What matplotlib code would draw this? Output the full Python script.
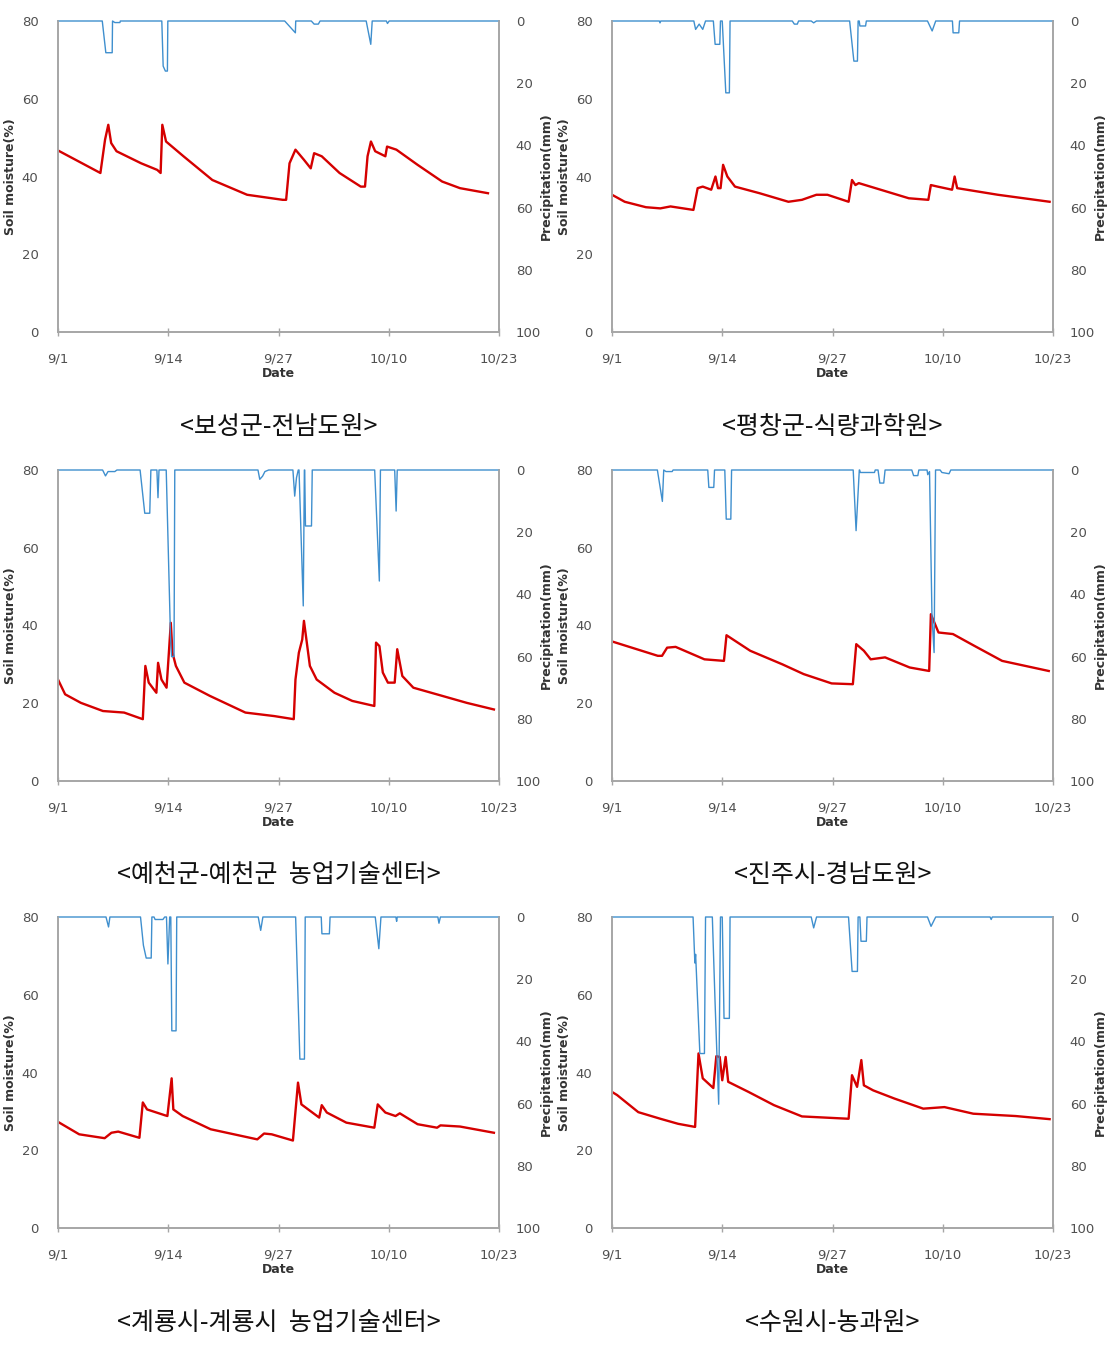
import matplotlib
matplotlib.use('Agg')
import matplotlib.pyplot as plt

plt.rcParams['font.family'] = ['DejaVu Sans']

# x axis: days after 9/1
tick_days = [0, 13, 26, 39, 52]
tick_labels = ['9/1', '9/14', '9/27', '10/10', '10/23']

captions = ['<보성군-전남도원>', '<평창군-식량과학원>',
            '<예천군-예천군  농업기술센터>', '<진주시-경남도원>',
            '<계룡시-계룡시  농업기술센터>', '<수원시-농과원>']

#%% soil moisture (%)
sm_days_1 = [0, 5.0, 5.55, 5.93, 6.27, 6.9, 9.8, 11.7, 12.1, 12.3, 12.74, 14.8, 18.2, 22.3, 26.5,
             26.9, 27.3, 28.0, 29.0, 29.8, 30.2, 31.1, 33.2, 35.7, 36.2, 36.5, 36.9, 37.4, 38.6,
             38.8, 39.9, 42.4, 45.3, 47.4, 50.7]
sm_vals_1 = [46.7, 40.9, 49.5, 53.3, 48.6, 46.5, 43.4, 41.7, 40.9, 53.3, 49.0, 45.2, 39.1, 35.3, 34.0,
             34.0, 43.4, 46.9, 44.3, 42.1, 46.0, 45.2, 40.9, 37.4, 37.4, 45.2, 49.0, 46.5, 45.2,
             47.7, 46.9, 43.0, 38.7, 37.0, 35.7]

sm_days_2 = [0, 1.5, 4.0, 5.7, 6.9, 9.6, 10.1, 10.7, 11.7, 12.2, 12.5, 12.8, 13.1, 13.6, 14.5, 17.4,
             20.8, 22.4, 24.1, 25.4, 27.9, 28.3, 28.7, 29.1, 35.0, 37.3, 37.6, 38.4, 40.1, 40.4,
             40.7, 45.5, 51.6]
sm_vals_2 = [35.3, 33.5, 32.1, 31.8, 32.3, 31.4, 37.0, 37.4, 36.6, 40.0, 37.0, 37.0, 43.0, 40.0, 37.4,
             35.7, 33.5, 34.0, 35.3, 35.3, 33.5, 39.1, 37.8, 38.3, 34.4, 34.0, 37.8, 37.4, 36.6,
             40.0, 37.0, 35.3, 33.5]

sm_days_3 = [0, 0.84, 2.7, 5.3, 7.8, 10.0, 10.3, 10.7, 11.6, 11.8, 12.2, 12.8, 13.1, 13.3, 13.5,
             13.9, 14.9, 17.9, 22.1, 25.5, 27.8, 28.0, 28.4, 28.8, 29.0, 29.7, 30.5, 32.6, 34.7,
             37.3, 37.5, 37.9, 38.3, 38.9, 39.7, 40.0, 40.6, 41.9, 45.3, 48.2, 51.4]
sm_vals_3 = [26.1, 22.3, 20.1, 18.0, 17.6, 15.9, 29.6, 25.3, 22.7, 30.4, 26.1, 24.0, 33.9, 40.7, 33.0,
             29.6, 25.3, 21.9, 17.6, 16.7, 15.9, 26.1, 33.0, 36.4, 41.2, 29.6, 26.1, 22.7, 20.6,
             19.3, 35.6, 34.7, 27.9, 25.3, 25.3, 33.9, 27.0, 24.0, 21.9, 20.1, 18.4]

sm_days_4 = [0, 5.4, 5.9, 6.5, 7.5, 10.9, 13.2, 13.5, 14.2, 16.3, 20.1, 22.6, 25.9, 28.4, 28.8,
             29.7, 30.5, 32.2, 35.1, 37.4, 37.6, 38.1, 38.5, 40.2, 42.7, 46.0, 51.5]
sm_vals_4 = [35.9, 32.2, 32.2, 34.3, 34.5, 31.3, 30.9, 37.5, 36.5, 33.5, 30.0, 27.5, 25.1, 24.9, 35.2,
             33.5, 31.3, 31.8, 29.2, 28.3, 42.9, 40.3, 38.2, 37.8, 34.8, 30.9, 28.3]

sm_days_5 = [0, 2.5, 5.5, 6.3, 7.1, 9.6, 10.0, 10.5, 12.6, 12.9, 13.1, 13.4, 13.6, 14.7, 18.0, 23.5,
             24.3, 25.2, 27.7, 28.3, 28.7, 30.8, 31.1, 31.7, 34.0, 37.3, 37.7, 38.6, 39.8, 40.3,
             42.4, 44.7, 45.1, 47.4, 51.4]
sm_vals_5 = [27.3, 24.1, 23.1, 24.5, 24.8, 23.2, 32.3, 30.5, 29.0, 28.8, 32.7, 38.5, 30.5, 28.8, 25.4,
             22.8, 24.3, 24.1, 22.5, 37.4, 31.8, 28.4, 31.6, 29.7, 27.1, 25.8, 31.8, 29.7, 28.8,
             29.5, 26.7, 25.8, 26.4, 26.1, 24.5]

sm_days_6 = [0, 0.6, 3.1, 5.7, 7.8, 9.8, 10.2, 10.7, 11.95, 12.3, 12.7, 13.0, 13.4, 13.7, 16.1, 19.1,
             22.4, 27.9, 28.3, 28.9, 29.4, 29.7, 30.8, 33.3, 36.7, 39.2, 42.6, 47.6, 51.6]
sm_vals_6 = [35.0, 34.2, 29.8, 28.1, 26.8, 26.0, 44.9, 38.5, 36.0, 44.2, 44.0, 38.0, 44.0, 37.6, 35.0,
             31.6, 28.7, 28.1, 39.3, 36.3, 43.2, 36.7, 35.4, 33.3, 30.7, 31.1, 29.4, 28.8, 28.0]

#%% precipitation (mm)
pr_days_1 = [0, 5.22, 5.64, 6.39, 6.43, 6.7, 7.3, 7.35, 12.24, 12.4, 12.66, 12.9, 12.95, 26.73, 27.99,
             28.03, 29.87, 30.2, 30.7, 30.9, 36.34, 36.88, 37.05, 38.72, 38.85, 39.05, 52]
pr_vals_1 = [0, 0, 10.2, 10.2, 0, 0.5, 0.5, 0, 0, 14.5, 16.1, 16.1, 0, 0, 3.8,
             0, 0, 1.0, 1.0, 0, 0, 7.5, 0, 0, 0.8, 0, 0]

pr_days_2 = [0, 5.58, 5.66, 5.75, 9.65, 9.86, 10.28, 10.7, 11.03, 11.95, 12.16, 12.71, 12.79, 13.0,
             13.42, 13.84, 13.92, 21.26, 21.5, 21.85, 22.0, 23.49, 23.78, 24.1, 28.02, 28.52, 28.94,
             29.02, 29.15, 29.23, 29.9, 29.99, 37.2, 37.75, 38.17, 40.14, 40.22, 40.89, 40.98, 52]
pr_vals_2 = [0, 0, 0.6, 0, 0, 2.7, 1.0, 2.7, 0, 0, 7.5, 7.5, 0, 0,
             23.1, 23.1, 0, 0, 1.0, 1.0, 0, 0, 0.6, 0, 0, 12.9, 12.9,
             0, 0, 1.6, 1.6, 0, 0, 3.2, 0, 0, 3.8, 3.8, 0, 0]

pr_days_3 = [0, 5.26, 5.6, 5.9, 6.7, 6.95, 9.68, 10.23, 10.82, 10.95, 11.66, 11.79, 11.91, 12.76,
             13.26, 13.39, 13.68, 13.77, 23.58, 23.79, 24.12, 24.4, 24.84, 27.7, 27.91, 28.12, 28.33,
             28.42, 28.92, 29.05, 29.09, 29.18, 29.89, 29.98, 37.34, 37.89, 38.02, 39.7, 39.87, 40.0, 52]
pr_vals_3 = [0, 0, 1.9, 0.5, 0.5, 0, 0, 13.9, 13.9, 0, 0, 8.9, 0, 0,
             53, 60, 60, 0, 0, 3.0, 2.0, 0.5, 0, 0, 8.4, 2.5, 0,
             0, 43.7, 0, 0, 18, 18, 0, 0, 35.7, 0, 0, 13.2, 0, 0]

pr_days_4 = [0, 5.35, 5.94, 6.1, 6.36, 7.1, 7.2, 11.29, 11.42, 12.0, 12.09, 13.3, 13.47, 14.01, 14.1,
             28.44, 28.78, 29.16, 29.2, 29.28, 30.95, 31.04, 31.37, 31.58, 32.04, 32.2, 35.35, 35.56,
             36.06, 36.18, 37.15, 37.23, 37.44, 37.73, 37.98, 38.15, 38.69, 38.9, 39.74, 39.95, 52]
pr_vals_4 = [0, 0, 10.1, 0, 0.5, 0.5, 0, 0, 5.6, 5.6, 0, 0, 15.8, 15.8, 0,
             0, 19.5, 0, 0, 0.8, 0.8, 0, 0, 4.2, 4.2, 0, 0, 1.8,
             1.8, 0, 0, 1.5, 0.5, 47, 58.7, 0, 0, 0.8, 1.2, 0, 0]

pr_days_5 = [0, 5.66, 5.96, 6.12, 9.73, 10.07, 10.4, 10.99, 11.07, 11.32, 11.45, 12.37, 12.58, 12.79,
             12.96, 13.17, 13.3, 13.42, 13.92, 14.0, 23.61, 23.9, 24.16, 28.02, 28.52, 29.06, 29.15,
             31.04, 31.12, 32.0, 32.08, 37.41, 37.83, 38.08, 39.84, 39.93, 40.0, 44.79, 44.92, 45.09, 52]
pr_vals_5 = [0, 0, 3.2, 0, 0, 9.1, 13.2, 13.2, 0, 0, 0.8, 0.8, 0, 0,
             15.1, 0, 0, 36.6, 36.6, 0, 0, 4.3, 0, 0, 45.7, 45.7, 0,
             0, 5.4, 5.4, 0, 0, 10.2, 0, 0, 1.4, 0, 0, 2.0, 0, 0]

pr_days_6 = [0, 9.56, 9.77, 9.86, 10.36, 10.9, 11.03, 11.83, 12.16, 12.58, 12.79, 13.0, 13.21, 13.84,
             13.92, 23.49, 23.78, 24.12, 27.89, 28.31, 28.94, 29.02, 29.23, 29.36, 29.99, 30.07, 37.2,
             37.62, 38.17, 44.58, 44.71, 44.84, 52]
pr_vals_6 = [0, 0, 14.8, 12, 43.9, 43.9, 0, 0, 28, 60.2, 0, 0, 32.6, 32.6,
             0, 0, 3.5, 0, 0, 17.5, 17.5, 0, 0, 7.8, 7.8, 0, 0,
             3.0, 0, 0, 0.8, 0, 0]

panels = [(sm_days_1, sm_vals_1, pr_days_1, pr_vals_1),
          (sm_days_2, sm_vals_2, pr_days_2, pr_vals_2),
          (sm_days_3, sm_vals_3, pr_days_3, pr_vals_3),
          (sm_days_4, sm_vals_4, pr_days_4, pr_vals_4),
          (sm_days_5, sm_vals_5, pr_days_5, pr_vals_5),
          (sm_days_6, sm_vals_6, pr_days_6, pr_vals_6)]

#%% layout (figure fractions)
W, H = 1109, 1348
lefts = [58 / W, 612 / W]
width = 441 / W
bottoms = [1 - 332 / H, 1 - 781 / H, 1 - 1228 / H]
height = 311 / H
caption_y = [1 - 427 / H, 1 - 875 / H, 1 - 1323 / H]

fig = plt.figure(figsize=(W / 100, H / 100), dpi=100)
grey = '#a6a6a6'
tick_col = '#505050'

for i, (sd, sv, pd_, pv) in enumerate(panels):
    row, col = divmod(i, 2)
    ax = fig.add_axes([lefts[col], bottoms[row], width, height])
    ax2 = ax.twinx()

    ax.plot(sd, sv, color='#d50000', lw=1.7, solid_joinstyle='round')
    ax2.plot(pd_, pv, color='#3f8fce', lw=1.0, clip_on=False)

    ax.set_xlim(0, 52)
    ax.set_ylim(0, 80)
    ax2.set_ylim(100, 0)
    ax.set_xticks(tick_days)
    ax.set_xticklabels(tick_labels)
    ax.set_yticks([0, 20, 40, 60, 80])
    ax2.set_yticks([0, 20, 40, 60, 80, 100])

    for a in (ax, ax2):
        for side in ['left', 'right', 'bottom']:
            a.spines[side].set_color(grey)
            a.spines[side].set_linewidth(1.2)
        a.spines['top'].set_visible(False)
    ax.tick_params(axis='x', direction='inout', length=6, width=1, color=grey,
                   pad=12, labelsize=9.5, labelcolor=tick_col)
    ax.tick_params(axis='y', length=0, pad=14, labelsize=9.5, labelcolor=tick_col)
    ax2.tick_params(axis='y', length=0, pad=12, labelsize=9.5, labelcolor=tick_col)

    ax.set_xlabel('Date', fontsize=9, fontweight='bold', color='#333333', labelpad=1)
    ax.set_ylabel('Soil moisture(%)', fontsize=9, fontweight='bold', color='#333333')
    ax2.set_ylabel('Precipitation(mm)', fontsize=9, fontweight='bold', color='#333333')
    ax.yaxis.set_label_coords(-0.093, 0.5)
    ax2.yaxis.set_label_coords(1.092, 0.5)

    fig.text(lefts[col] + width / 2, caption_y[row], captions[i], ha='center', va='center',
             fontsize=18, family=['Noto Sans CJK KR', 'DejaVu Sans'], color='#111111')

fig.savefig('out.png', dpi=100)
